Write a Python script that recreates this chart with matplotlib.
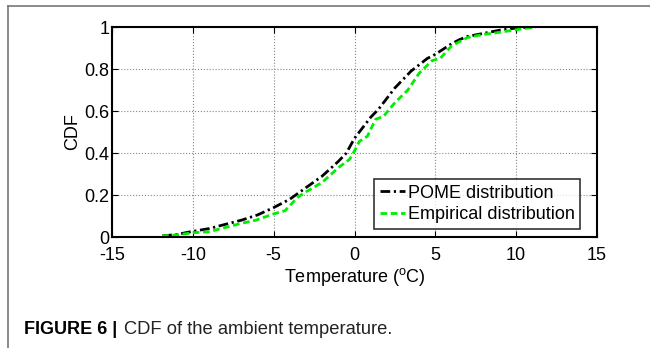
import matplotlib
matplotlib.use("Agg")
import matplotlib.pyplot as plt
from matplotlib.lines import Line2D

plt.rcParams['font.family'] = ['Liberation Sans', 'DejaVu Sans']
plt.rcParams['axes.unicode_minus'] = False

pome_x = [-11.9, -11, -10, -9, -8, -7, -6, -5, -4, -3, -2, -1, -0.5, 0, 0.5, 1, 1.5,
          2, 2.5, 3, 3.5, 4, 4.5, 5, 5.5, 6, 6.5, 7, 8, 9, 10, 11]
pome_y = [0.005, 0.012, 0.027, 0.04, 0.06, 0.08, 0.105, 0.14, 0.18, 0.235, 0.29, 0.36,
          0.40, 0.47, 0.52, 0.57, 0.61, 0.66, 0.71, 0.75, 0.79, 0.82, 0.85, 0.87, 0.895,
          0.92, 0.94, 0.955, 0.97, 0.985, 0.995, 1.0]

emp_x = [-11.9, -11, -10, -9, -8, -7, -6.1, -5, -4.3, -3.5, -3, -2, -1, -0.3, 0, 0.3,
         0.8, 1.3, 1.8, 2.5, 3.3, 4, 4.8, 5.3, 6, 7, 8, 9, 10, 11.2]
emp_y = [0.005, 0.01, 0.02, 0.025, 0.045, 0.065, 0.08, 0.11, 0.125, 0.19, 0.215, 0.26,
         0.33, 0.37, 0.41, 0.455, 0.48, 0.56, 0.575, 0.64, 0.70, 0.78, 0.84, 0.85, 0.91,
         0.95, 0.965, 0.975, 0.987, 1.0]

x_ticks = [-15, -10, -5, 0, 5, 10, 15]
y_ticks = [0, 0.2, 0.4, 0.6, 0.8, 1]
y_labels = ['0', '0.2', '0.4', '0.6', '0.8', '1']

fig = plt.figure(figsize=(6.5, 3.48), dpi=100)
ax = fig.add_axes([112/650, 1-237/348, (597-112)/650, (237-27)/348])

ax.plot(pome_x, pome_y, color='black', lw=2, linestyle=(0, (3.5, 1.3, 0.8, 1.3)),
        label='POME distribution')
ax.plot(emp_x, emp_y, color='#00ee00', lw=2, linestyle=(0, (2.4, 1.3)),
        label='Empirical distribution')

ax.set_xlim(-15, 15)
ax.set_ylim(0, 1)
ax.set_xticks(x_ticks)
ax.set_yticks(y_ticks)
ax.set_yticklabels(y_labels)
ax.tick_params(direction='in', top=True, right=True, labelsize=13, length=4)
ax.tick_params(axis='y', pad=2)
ax.tick_params(axis='x', pad=7)
ax.grid(True, color='#888888', linestyle=':', linewidth=0.8)
for s in ax.spines.values():
    s.set_linewidth(1.5)
ax.set_xlabel('Temperature ($\\mathregular{^{o}}$C)', fontsize=13, labelpad=2)
ax.set_ylabel('CDF', fontsize=13, labelpad=2)

leg = ax.legend(loc='lower right', bbox_to_anchor=(0.965, 0.04), fontsize=13,
                frameon=True, fancybox=False, edgecolor='black', handlelength=1.4,
                handletextpad=0.15, borderpad=0.3, labelspacing=0.25, borderaxespad=0)
leg.get_frame().set_linewidth(1.2)

# page frame
fig.add_artist(Line2D([8/650, 1], [1-6/348, 1-6/348], color='#777777', lw=1.2))
fig.add_artist(Line2D([8/650, 8/650], [0, 1-6/348], color='#777777', lw=1.2))

fig.text(24/650, 1-330/348, 'FIGURE 6 |', fontsize=13, fontweight='bold', va='center')
fig.text(124/650, 1-330/348, 'CDF of the ambient temperature.', fontsize=13.2,
         va='center', color='#222222')

fig.savefig('out.png', dpi=100)
